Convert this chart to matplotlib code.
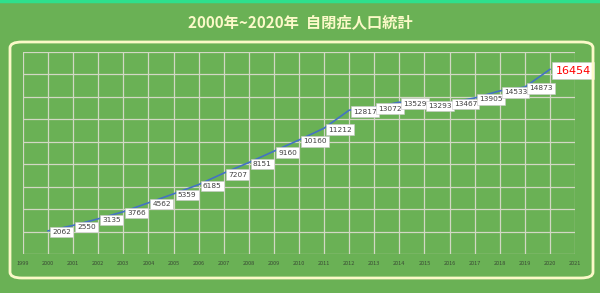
import matplotlib
matplotlib.use("Agg")
import matplotlib.pyplot as plt
from matplotlib.patches import FancyBboxPatch

plt.rcParams['font.family'] = ['Noto Sans CJK JP', 'DejaVu Sans']

YEARS = list(range(2000, 2021))
COUNTS = [2062, 2550, 3135, 3766, 4562, 5359, 6185, 7207, 8151, 9160, 10160,
          11212, 12817, 13072, 13529, 13293, 13467, 13905, 14533, 14873, 16454]
XTICKS = list(range(1999, 2022))
TITLE = "2000年~2020年  自閉症人口統計"

BG = "#6ab155"
CREAM = "#fbf9c8"
LINE = "#4472c4"
GRID = "#d2d8c4"

fig = plt.figure(figsize=(6, 2.93), dpi=100)
fig.patch.set_facecolor(BG)

# frame decorations
fig.add_artist(plt.Line2D([0, 1], [0.997, 0.997], color="#2ee08c", lw=2.5,
                          transform=fig.transFigure))
fig.add_artist(FancyBboxPatch((10 / 600, 1 - 278 / 293), 583 / 600, 236 / 293,
                              boxstyle="round,pad=0,rounding_size=0.02",
                              transform=fig.transFigure, facecolor="none",
                              edgecolor=CREAM, lw=2))
fig.text(0.5, 1 - 22 / 293, TITLE, ha="center", va="center", color=CREAM,
         fontsize=11, fontweight="bold")

ax = fig.add_axes([23 / 600, 1 - 254 / 293, 552 / 600, 202 / 293])
ax.set_facecolor(BG)
ax.set_xlim(1999, 2021)
ax.set_ylim(0, 18000)
ax.set_xticks(XTICKS)
ax.set_xticklabels([str(y) for y in XTICKS], fontsize=4, color="#3a4a35")
ax.set_yticks(range(0, 18001, 2000))
ax.set_yticklabels([])
ax.tick_params(length=0, pad=5)
ax.grid(True, color=GRID, lw=0.9)
for s in ax.spines.values():
    s.set_visible(False)

ax.plot(YEARS, COUNTS, color=LINE, lw=1.2, zorder=3)

for i, (yr, v) in enumerate(zip(YEARS, COUNTS)):
    last = i == len(YEARS) - 1
    ax.annotate(str(v), (yr, v), xytext=(4 if last else 3, -1),
                textcoords="offset points", ha="left", va="center",
                fontsize=8 if last else 5.3, color="#ff0000" if last else "#404040",
                family=["DejaVu Sans"],
                bbox=dict(boxstyle="square,pad=0.3", fc="white", ec="#c8c8c8", lw=0.4),
                zorder=4)

fig.savefig("out.png", dpi=100, facecolor=BG)
